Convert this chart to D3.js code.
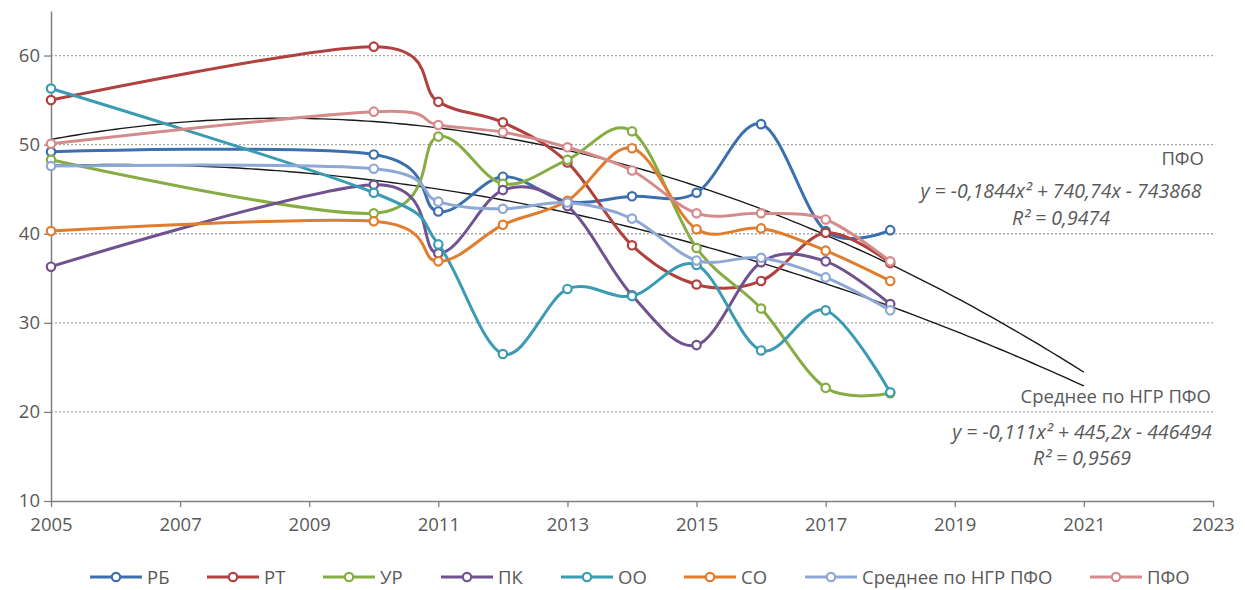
<!DOCTYPE html>
<html>
<head>
<meta charset="utf-8">
<script src="https://cdn.jsdelivr.net/npm/d3@7"></script>
<style>
  body { margin: 0; background: #fff; }
  text { font-family: "Open Sans", sans-serif; fill: #595959; }
</style>
</head>
<body>
<div id="grafica"></div>
<script>
// Datos
const years = [2005, 2010, 2011, 2012, 2013, 2014, 2015, 2016, 2017, 2018]
const seriesNames = ["РБ", "РТ", "УР", "ПК", "ОО", "СО", "Среднее по НГР ПФО", "ПФО"]
const seriesColors = ["#3b6fad", "#b0413e", "#86ad43", "#6f528f", "#3a9bb2", "#e07d2f", "#8ea8d4", "#d48b8b"]

const valRB  = [49.2, 48.9, 42.5, 46.4, 43.6, 44.2, 44.6, 52.3, 40.3, 40.4]
const valRT  = [55.0, 61.0, 54.8, 52.5, 48.0, 38.7, 34.3, 34.7, 40.1, 36.7]
const valUR  = [48.3, 42.3, 50.9, 45.6, 48.3, 51.5, 38.4, 31.6, 22.7, 22.1]
const valPK  = [36.3, 45.5, 37.8, 44.9, 43.1, 33.1, 27.5, 36.8, 36.9, 32.1]
const valOO  = [56.3, 44.6, 38.8, 26.5, 33.8, 33.0, 36.5, 26.9, 31.4, 22.2]
const valSO  = [40.3, 41.4, 36.9, 41.0, 43.7, 49.6, 40.5, 40.6, 38.1, 34.7]
const valAvg = [47.6, 47.3, 43.6, 42.8, 43.5, 41.7, 37.0, 37.3, 35.1, 31.4]
const valPFO = [50.1, 53.7, 52.2, 51.4, 49.7, 47.1, 42.3, 42.3, 41.6, 36.9]
const allValues = [valRB, valRT, valUR, valPK, valOO, valSO, valAvg, valPFO]

const xTicks = [2005, 2007, 2009, 2011, 2013, 2015, 2017, 2019, 2021, 2023]
const yTicks = [10, 20, 30, 40, 50, 60]
const trendEnd = 2021

const trendLabels = [
  { name: "ПФО", eq: "y = -0,1844x² + 740,74x - 743868", r2: "R² = 0,9474" },
  { name: "Среднее по НГР ПФО", eq: "y = -0,111x² + 445,2x - 446494", r2: "R² = 0,9569" }
]

// Canvas
const anchoTotal = 1245
const altoTotal = 590
const margins = { top: 11, right: 32, bottom: 89, left: 51 }
const ancho = anchoTotal - margins.left - margins.right
const alto = altoTotal - margins.top - margins.bottom

const x = d3.scaleLinear().domain([2005, 2023]).range([0, ancho])
const y = d3.scaleLinear().domain([10, 65]).range([alto, 0])

const svg = d3.select("#grafica").append("svg")
  .attr("width", anchoTotal)
  .attr("height", altoTotal)

const g = svg.append("g")
  .attr("transform", `translate(${margins.left},${margins.top})`)

// Grid
g.append("g")
  .selectAll("line")
  .data(yTicks.filter(d => d > 10))
  .join("line")
    .attr("x1", 0)
    .attr("x2", ancho)
    .attr("y1", d => y(d))
    .attr("y2", d => y(d))
    .attr("stroke", "#a6a6a6")
    .attr("stroke-width", 1.3)
    .attr("stroke-dasharray", "2,2")

// Ejes
const xAxis = g.append("g")
  .attr("transform", `translate(0,${alto})`)
  .call(d3.axisBottom(x).tickValues(xTicks).tickFormat(d3.format("d")).tickSize(6).tickSizeOuter(0))
const yAxis = g.append("g")
  .call(d3.axisLeft(y).tickValues(yTicks).tickSize(7).tickSizeOuter(0))

;[xAxis, yAxis].forEach(ax => {
  ax.select(".domain").attr("stroke", "#7f7f7f").attr("stroke-width", 1.5)
  ax.selectAll(".tick line").attr("stroke", "#7f7f7f").attr("stroke-width", 1.3)
  ax.selectAll(".tick text").attr("fill", "#595959").style("font-size", "18.5px").style("font-family", "Open Sans, sans-serif")
})
xAxis.selectAll(".tick text").attr("dy", "1.15em")
yAxis.selectAll(".tick text").attr("x", -11)

// Tendencias: ajuste cuadratico por minimos cuadrados
function fitQuadratic(xs, ys) {
  const x0 = d3.mean(xs)
  let s = [0, 0, 0, 0, 0], t = [0, 0, 0]
  xs.forEach((xv, i) => {
    const u = xv - x0
    for (let k = 0; k < 5; k++) s[k] += Math.pow(u, k)
    for (let k = 0; k < 3; k++) t[k] += ys[i] * Math.pow(u, k)
  })
  const A = [[s[0], s[1], s[2], t[0]], [s[1], s[2], s[3], t[1]], [s[2], s[3], s[4], t[2]]]
  for (let i = 0; i < 3; i++) {
    for (let j = i + 1; j < 3; j++) {
      const f = A[j][i] / A[i][i]
      for (let k = i; k < 4; k++) A[j][k] -= f * A[i][k]
    }
  }
  const c = [0, 0, 0]
  for (let i = 2; i >= 0; i--) {
    let v = A[i][3]
    for (let k = i + 1; k < 3; k++) v -= A[i][k] * c[k]
    c[i] = v / A[i][i]
  }
  return xv => c[0] + c[1] * (xv - x0) + c[2] * (xv - x0) * (xv - x0)
}

const trendLine = d3.line().x(d => x(d[0])).y(d => y(d[1]))
;[valPFO, valAvg].forEach(vals => {
  const f = fitQuadratic(years, vals)
  const pts = d3.range(2005, trendEnd + 0.001, 0.1).map(xv => [xv, f(xv)])
  g.append("path")
    .attr("d", trendLine(pts))
    .attr("fill", "none")
    .attr("stroke", "#1a1a1a")
    .attr("stroke-width", 1.4)
})

// Series
const linea = d3.line()
  .x((d, i) => x(years[i]))
  .y(d => y(d))
  .curve(d3.curveCatmullRom.alpha(0))

allValues.forEach((vals, si) => {
  const col = seriesColors[si]
  g.append("path")
    .attr("d", linea(vals))
    .attr("fill", "none")
    .attr("stroke", col)
    .attr("stroke-width", 3)
  g.append("g")
    .selectAll("circle")
    .data(vals)
    .join("circle")
      .attr("cx", (d, i) => x(years[i]))
      .attr("cy", d => y(d))
      .attr("r", 4.2)
      .attr("fill", "#fff")
      .attr("stroke", col)
      .attr("stroke-width", 2.2)
})

// Etiquetas de tendencia
const lbl = svg.append("g").style("font-size", "18.5px")
const eqSize = "19.5px"
lbl.append("text").attr("x", 1204).attr("y", 165).attr("text-anchor", "end").text(trendLabels[0].name)
lbl.append("text").attr("x", 1061).attr("y", 198).attr("text-anchor", "middle").style("font-style", "italic").style("font-size", eqSize).text(trendLabels[0].eq)
lbl.append("text").attr("x", 1061).attr("y", 225).attr("text-anchor", "middle").style("font-style", "italic").style("font-size", eqSize).text(trendLabels[0].r2)
lbl.append("text").attr("x", 1211).attr("y", 403).attr("text-anchor", "end").text(trendLabels[1].name)
lbl.append("text").attr("x", 1082).attr("y", 439).attr("text-anchor", "middle").style("font-style", "italic").style("font-size", eqSize).text(trendLabels[1].eq)
lbl.append("text").attr("x", 1082).attr("y", 465).attr("text-anchor", "middle").style("font-style", "italic").style("font-size", eqSize).text(trendLabels[1].r2)

// Leyenda
const legendX = [90, 207, 323, 441, 561, 684, 805, 1090]
const legend = svg.append("g").attr("transform", "translate(0,577)")
seriesNames.forEach((nombre, i) => {
  const row = legend.append("g").attr("transform", `translate(${legendX[i]},0)`)
  row.append("line").attr("x1", 0).attr("x2", 52).attr("stroke", seriesColors[i]).attr("stroke-width", 3)
  row.append("circle").attr("cx", 26).attr("r", 4.2).attr("fill", "#fff").attr("stroke", seriesColors[i]).attr("stroke-width", 2.2)
  row.append("text").attr("x", 57).attr("y", 6.5).style("font-size", "18.5px").text(nombre)
})
</script>
</body>
</html>
